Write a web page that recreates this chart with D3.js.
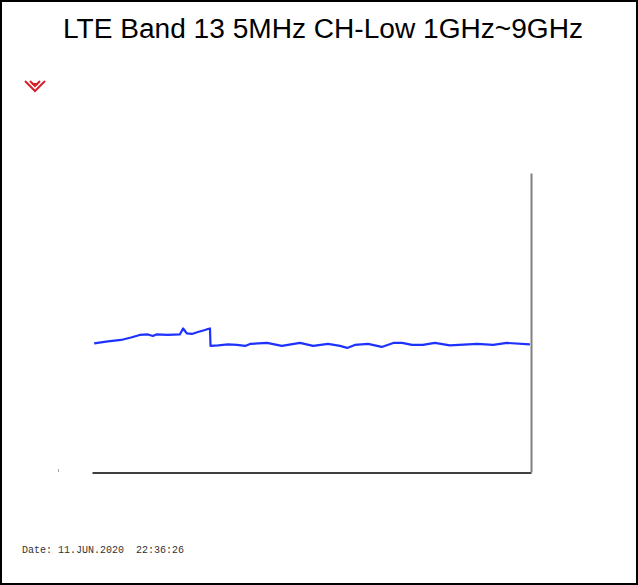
<!DOCTYPE html>
<html>
<head>
<meta charset="utf-8">
<script src="https://cdn.jsdelivr.net/npm/d3@7"></script>
<style>
  html, body { margin: 0; padding: 0; background: #fff; }
  svg { display: block; }
</style>
</head>
<body>
<svg id="chart" width="638" height="585"></svg>
<script>
// trace: frequency in GHz, level in dBm
const freqGHz = [
    1.04, 1.29, 1.53, 1.71, 1.87, 2.02, 2.11, 2.17, 2.38, 2.60, 2.66, 2.73,
    2.82, 2.93, 3.06, 3.11, 3.15, 3.16, 3.30, 3.48, 3.64, 3.79, 3.88, 4.19,
    4.46, 4.79, 5.03, 5.30, 5.52, 5.65, 5.79, 6.03, 6.28, 6.49, 6.65, 6.83,
    7.03, 7.25, 7.52, 8.02, 8.31, 8.56, 8.98
];
const levelDbm = [
    -54.2, -53.8, -53.5, -53.0, -52.5, -52.4, -52.7, -52.4, -52.5, -52.4, -51.2, -52.2,
    -52.3, -51.9, -51.5, -51.3, -51.2, -54.7, -54.6, -54.4, -54.5, -54.7, -54.3, -54.1,
    -54.7, -54.1, -54.7, -54.3, -54.7, -55.1, -54.5, -54.3, -54.9, -54.1, -54.1, -54.5,
    -54.5, -54.1, -54.6, -54.3, -54.5, -54.1, -54.4
];
const freqDomain = [1, 9];
const levelDomain = [-80, -20];

const title = 'LTE Band 13 5MHz CH-Low 1GHz~9GHz';
const dateLabel = 'Date: 11.JUN.2020  22:36:26';

const svg = d3.select('#chart');
const width = 638;
const height = 585;

const plot = { left: 92, right: 531, top: 173, bottom: 472 };

const x = d3.scaleLinear().domain(freqDomain).range([plot.left, plot.right]);
const y = d3.scaleLinear().domain(levelDomain).range([plot.bottom, plot.top]);

// outer frame
svg.append('rect')
    .attr('x', 1)
    .attr('y', 1)
    .attr('width', width - 2)
    .attr('height', height - 2)
    .attr('fill', '#fff')
    .attr('stroke', '#000')
    .attr('stroke-width', 2);

svg.append('text')
    .attr('x', 323)
    .attr('y', 38)
    .attr('text-anchor', 'middle')
    .attr('font-family', 'Liberation Sans, Arial, sans-serif')
    .attr('font-size', 27)
    .attr('textLength', 520)
    .attr('lengthAdjust', 'spacingAndGlyphs')
    .attr('fill', '#000')
    .text(title);

// bottom and right edges of the graticule, no ticks
const xAxis = svg.append('g')
    .attr('transform', `translate(0,${plot.bottom + 0.5})`)
    .call(d3.axisBottom(x).tickValues([]).tickSizeOuter(0));
xAxis.select('.domain')
    .attr('stroke', '#000')
    .attr('stroke-width', 1.5);

const yAxis = svg.append('g')
    .attr('transform', `translate(${plot.right},0)`)
    .call(d3.axisRight(y).tickValues([]).tickSizeOuter(0));
yAxis.select('.domain')
    .attr('stroke', '#808080')
    .attr('stroke-width', 2);

// little stray mark left of the plot
svg.append('line')
    .attr('x1', 58.5).attr('x2', 58.5)
    .attr('y1', 469).attr('y2', 472)
    .attr('stroke', '#aaa')
    .attr('stroke-width', 1);

const line = d3.line()
    .x((d, i) => x(freqGHz[i]))
    .y(d => y(d));

svg.append('path')
    .datum(levelDbm)
    .attr('d', line)
    .attr('fill', 'none')
    .attr('stroke', '#1e32ff')
    .attr('stroke-width', 2.2)
    .attr('stroke-linejoin', 'round');

// red marker symbol
const marker = svg.append('g')
    .attr('transform', 'translate(35,86)')
    .attr('fill', 'none')
    .attr('stroke', '#d8202a')
    .attr('stroke-width', 2);
marker.append('path').attr('d', 'M-10,-5 L0,5 L10,-5');
marker.append('path').attr('d', 'M-5,-5 L0,0 L5,-5');
marker.append('path').attr('d', 'M-3,-2 L3,-2');

svg.append('text')
    .attr('x', 22)
    .attr('y', 553)
    .attr('font-family', 'Liberation Mono, Courier New, monospace')
    .attr('font-size', 10)
    .attr('fill', '#333')
    .style('white-space', 'pre')
    .text(dateLabel);
</script>
</body>
</html>
